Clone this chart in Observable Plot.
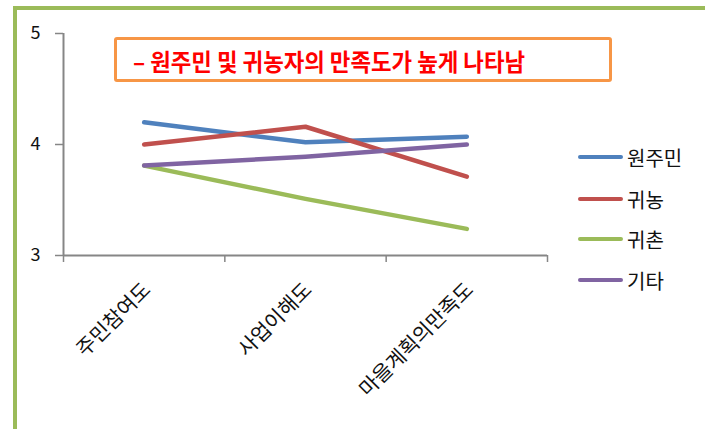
<!DOCTYPE html>
<html><head><meta charset="utf-8">
<script src="https://cdn.jsdelivr.net/npm/d3@7"></script>
<script src="https://cdn.jsdelivr.net/npm/@observablehq/plot@0.6"></script>
<style>
body{margin:0;background:#fff;font-family:"Noto Sans CJK KR","Noto Sans",sans-serif;}
#wrap{position:relative;width:705px;height:429px;overflow:hidden;background:#fff;}
#frame{position:absolute;left:13px;top:6px;width:760px;height:500px;border:4px solid #9BBB59;box-sizing:border-box;}
#chart{position:absolute;left:0;top:0;}
#title{position:absolute;left:114px;top:37px;width:498px;height:45px;border:3.5px solid #F79646;border-radius:3px;box-sizing:border-box;background:#fff;}
#title svg{position:absolute;left:-3.5px;top:-3.5px;}
.leg{position:absolute;left:578px;display:flex;align-items:center;height:24px;font-size:20px;color:#111;}
.leg .sw{width:45px;height:4.5px;border-radius:3px;margin-right:4px;}
</style>
</head><body>
<div id="wrap">
  <div id="frame"></div>
  <div id="chart"></div>
  <div id="title"><svg width="498" height="45"><text x="19" y="34" textLength="392" lengthAdjust="spacingAndGlyphs" font-size="24" font-weight="bold" fill="#FF0000" font-family="Noto Sans CJK KR">– 원주민 및 귀농자의 만족도가 높게 나타남</text></svg></div>
</div>
<script>
const categories = ["주민참여도", "사업이해도", "마을계획의만족도"];
const seriesNames = ["원주민", "귀농", "귀촌", "기타"];
const seriesColors = ["#4F81BD", "#C0504D", "#9BBB59", "#8064A2"];
const v원주민 = [4.2, 4.02, 4.07];
const v귀농 = [4.0, 4.16, 3.71];
const v귀촌 = [3.81, 3.51, 3.24];
const v기타 = [3.81, 3.89, 4.0];
const yTicks = [3, 4, 5];
const seriesValues = [v원주민, v귀농, v귀촌, v기타];

const rows = [];
seriesNames.forEach((s, k) => {
  seriesValues[k].forEach((v, i) => rows.push({series: s, category: categories[i], idx: i + 0.5, value: v}));
});
const boundaries = d3.range(categories.length + 1);
const axisColor = "#868686";

const chart = Plot.plot({
  width: 705, height: 429,
  marginLeft: 63, marginRight: 158, marginTop: 33, marginBottom: 174,
  style: {fontFamily: '"Noto Sans CJK KR", sans-serif', background: "transparent", overflow: "visible", color: "#111"},
  x: {type: "linear", domain: [0, categories.length]},
  y: {domain: [3, 5]},
  color: {domain: seriesNames, range: seriesColors},
  marks: [
    Plot.axisY({ticks: yTicks, tickSize: 8, tickPadding: 15, fontSize: 18, stroke: axisColor, strokeWidth: 1.5, tickFormat: d => String(d), label: null}),
    Plot.axisX({ticks: boundaries, tickSize: 7, tickFormat: () => "", stroke: axisColor, strokeWidth: 1.5, label: null}),
    Plot.ruleX([0], {stroke: axisColor, strokeWidth: 2}),
    Plot.ruleY([3], {stroke: axisColor, strokeWidth: 2}),
    Plot.text(categories, {x: (d, i) => i + 0.5, frameAnchor: "bottom", text: d => d, rotate: -45, textAnchor: "end", lineAnchor: "middle", dx: 3, dy: 31, fontSize: 20.5, fill: "#111"}),
    Plot.line(rows, {x: "idx", y: "value", z: "series", stroke: "series", strokeWidth: 4.5, strokeLinecap: "round", strokeLinejoin: "round"})
  ]
});
document.getElementById("chart").appendChild(chart);

const wrap = document.getElementById("wrap");
const legTops = [157, 199, 239, 280];
seriesNames.forEach((s, k) => {
  const d = document.createElement("div");
  d.className = "leg";
  d.style.top = (legTops[k] - 12) + "px";
  d.innerHTML = `<span class="sw" style="background:${seriesColors[k]}"></span><span>${s}</span>`;
  wrap.appendChild(d);
});
</script>
</body></html>
